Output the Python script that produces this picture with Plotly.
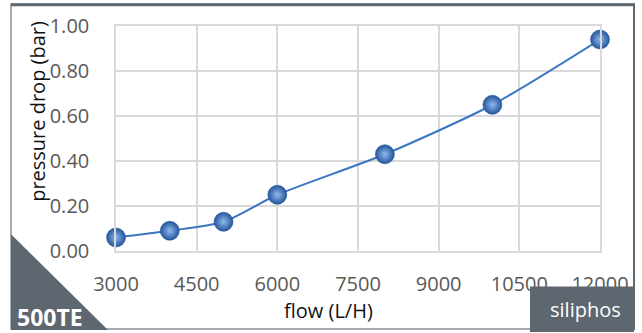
import plotly.graph_objects as go

flow = [3000, 4000, 5000, 6000, 8000, 10000, 12000]
pressure_drop = [0.06, 0.09, 0.13, 0.25, 0.43, 0.65, 0.94]
x_ticks = [3000, 4500, 6000, 7500, 9000, 10500, 12000]
y_ticks = [0.0, 0.2, 0.4, 0.6, 0.8, 1.0]
x_title = "flow (L/H)"
y_title = "pressure drop (bar)"
model_label = "500TE"
brand_label = "siliphos"

L, R, T, B = 116, 600, 23, 251
W, H = 642, 333
pw, ph = R - L, B - T

def px(x):
    return (x - L) / pw

def py(y):
    return (B - y) / ph

GRAY = "#5e6670"
FONT = "Open Sans, Liberation Sans, sans-serif"
FS = 20

fig = go.Figure()
fig.add_trace(go.Scatter(
    x=flow, y=pressure_drop, mode="lines+markers",
    line=dict(color="#3b76c2", width=2, shape="spline", smoothing=0.7),
    marker=dict(size=19, color="#24559a",
                gradient=dict(type="radial", color="#8fbaf0"),
                line=dict(color="#2a5a98", width=0.6)),
    cliponaxis=False, hoverinfo="skip", showlegend=False,
))

fig.update_layout(
    width=W, height=H,
    margin=dict(l=L, r=W - R, t=T, b=H - B),
    paper_bgcolor="white", plot_bgcolor="white",
    font=dict(family=FONT, color="#595959", size=FS),
    xaxis=dict(range=[3000, 12000], tickvals=x_ticks, ticktext=[str(v) for v in x_ticks],
               showgrid=True, gridcolor="#d9d9d9", gridwidth=1.5, zeroline=False,
               showline=True, linecolor="#d9d9d9", linewidth=1.5, mirror=True,
               ticks="outside", ticklen=14, tickcolor="rgba(0,0,0,0)",
               tickfont=dict(size=FS, color="#595959")),
    yaxis=dict(range=[0, 1.0], tickvals=y_ticks, ticktext=[f"{v:.2f}" for v in y_ticks],
               showgrid=True, gridcolor="#d9d9d9", gridwidth=1.5, zeroline=False,
               showline=True, linecolor="#d9d9d9", linewidth=1.5, mirror=True,
               ticks="outside", ticklen=21, tickcolor="rgba(0,0,0,0)",
               tickfont=dict(size=FS, color="#595959")),
)

shapes = [
    dict(type="rect", xref="paper", yref="paper",
         x0=px(11), x1=px(634), y0=py(330), y1=py(1),
         line=dict(color="#8a9098", width=1.5), layer="below"),
    dict(type="line", xref="paper", yref="paper",
         x0=px(11), x1=px(635), y0=py(1.5), y1=py(1.5),
         line=dict(color=GRAY, width=3)),
    dict(type="line", xref="paper", yref="paper",
         x0=px(634), x1=px(634), y0=py(0), y1=py(331),
         line=dict(color=GRAY, width=2)),
    dict(type="path", xref="paper", yref="paper",
         path=f"M {px(11)},{py(234)} L {px(11)},{py(331)} L {px(108)},{py(331)} Z",
         fillcolor=GRAY, line=dict(width=0)),
    dict(type="rect", xref="paper", yref="paper",
         x0=px(530), x1=px(634), y0=py(333), y1=py(287),
         fillcolor=GRAY, line=dict(width=0)),
]
fig.update_layout(shapes=shapes)

fig.add_annotation(x=px(38), y=py(110), xref="paper", yref="paper",
                   text=y_title, textangle=-90, showarrow=False,
                   xanchor="center", yanchor="middle",
                   font=dict(family=FONT, size=FS, color="#111111"))
fig.add_annotation(x=px(328), y=py(311), xref="paper", yref="paper",
                   text=x_title, showarrow=False, xanchor="center", yanchor="middle",
                   font=dict(family=FONT, size=FS, color="#111111"))
fig.add_annotation(x=px(15), y=py(318), xref="paper", yref="paper",
                   text=f"<b>{model_label}</b>", showarrow=False, xanchor="left", yanchor="middle",
                   font=dict(family=FONT, size=23, color="white"))
fig.add_annotation(x=px(585), y=py(310), xref="paper", yref="paper",
                   text=brand_label, showarrow=False, xanchor="center", yanchor="middle",
                   font=dict(family=FONT, size=FS, color="white"))

fig.write_html("out.html", config={"displayModeBar": False},
               post_script="document.body.style.margin='0';document.body.style.overflow='hidden';")
